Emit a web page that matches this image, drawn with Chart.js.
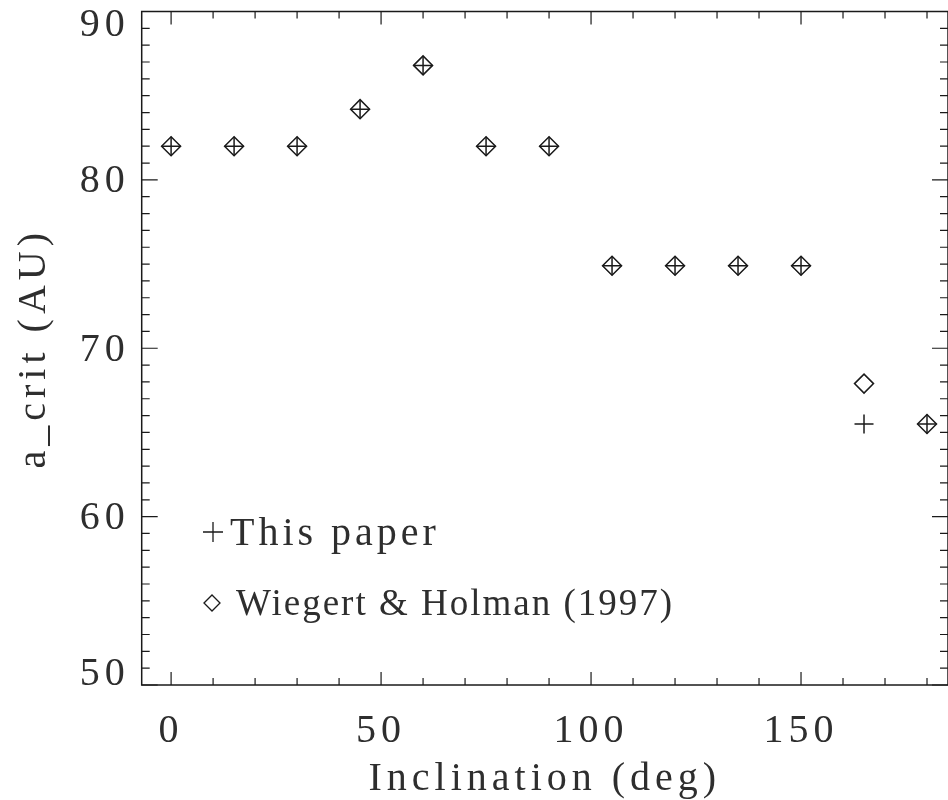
<!DOCTYPE html>
<html>
<head>
<meta charset="utf-8">
<script src="https://cdn.jsdelivr.net/npm/chart.js@4/dist/chart.umd.min.js"></script>
<style>
  html, body { margin: 0; padding: 0; background: #fff; }
  #wrap { width: 948px; height: 800px; }
</style>
</head>
<body>
<div id="wrap"><canvas id="acritChart"></canvas></div>
<script>
// inclinations (deg) sampled in the runs
const inclinations = [0, 15, 30, 45, 60, 75, 90, 105, 120, 135, 150, 165, 180];
// critical semi-major axis, this paper (plus symbols)
const acritThisPaper = [82, 82, 82, 84.2, 86.8, 82, 82, 74.9, 74.9, 74.9, 74.9, 65.5, 65.5];
// critical semi-major axis, Wiegert & Holman 1997 (diamonds)
const acritWH97 = [82, 82, 82, 84.2, 86.8, 82, 82, 74.9, 74.9, 74.9, 74.9, 67.9, 65.5];
// tick labels
const xTickValues = [0, 50, 100, 150];
const yTickValues = [50, 60, 70, 80, 90];

const FONT = '"Liberation Serif", "DejaVu Serif", serif';
const INK = '#1a1a1a';
const TEXT = '#2e2e2e';

function toPoints(xs, ys) {
    return xs.map((x, i) => ({ x: x, y: ys[i] }));
}

// frame with inward ticks on all four sides, like the IDL plot
const frameTicks = {
    id: 'frameTicks',
    beforeDatasetsDraw(chart) {
        const { ctx, chartArea: a, scales: { x, y } } = chart;
        ctx.save();
        ctx.strokeStyle = INK;
        ctx.lineWidth = 1.5;
        ctx.strokeRect(a.left, a.top, a.right - a.left, a.bottom - a.top);
        ctx.lineWidth = 1.2;
        ctx.beginPath();
        for (let v = 0; v <= 180; v += 10) {
            const px = x.getPixelForValue(v);
            const len = v % 50 === 0 ? 13 : 7;
            ctx.moveTo(px, a.bottom); ctx.lineTo(px, a.bottom - len);
            ctx.moveTo(px, a.top); ctx.lineTo(px, a.top + len);
        }
        for (let v = 50; v <= 90; v += 1) {
            const py = y.getPixelForValue(v);
            const len = v % 10 === 0 ? 16 : 8;
            ctx.moveTo(a.left, py); ctx.lineTo(a.left + len, py);
            ctx.moveTo(a.right, py); ctx.lineTo(a.right - len, py);
        }
        ctx.stroke();

        // y tick labels, end labels kept inside the frame as in the original
        ctx.fillStyle = TEXT;
        ctx.font = '40px ' + FONT;
        ctx.letterSpacing = '5px';
        ctx.textAlign = 'right';
        ctx.textBaseline = 'middle';
        yTickValues.forEach(v => {
            let py = y.getPixelForValue(v);
            py = Math.min(Math.max(py, a.top + 12), a.bottom - 13);
            ctx.fillText(String(v), a.left - 12, py + 2);
        });
        ctx.restore();
    }
};

// legend written inside the plot, lower left
const innerLegend = {
    id: 'innerLegend',
    afterDatasetsDraw(chart) {
        const ctx = chart.ctx;
        ctx.save();
        ctx.strokeStyle = INK;
        ctx.fillStyle = TEXT;
        ctx.lineWidth = 1.3;
        ctx.beginPath();
        // plus
        ctx.moveTo(203, 532); ctx.lineTo(223, 532);
        ctx.moveTo(213, 522); ctx.lineTo(213, 542);
        // diamond
        ctx.moveTo(204, 603); ctx.lineTo(212, 595); ctx.lineTo(220, 603);
        ctx.lineTo(212, 611); ctx.closePath();
        ctx.stroke();
        ctx.font = '40px ' + FONT;
        ctx.letterSpacing = '4px';
        ctx.textBaseline = 'alphabetic';
        ctx.textAlign = 'left';
        ctx.fillText('This paper', 230, 545);
        ctx.font = '37px ' + FONT;
        ctx.letterSpacing = '2px';
        ctx.fillText('Wiegert & Holman (1997)', 236, 615);
        ctx.restore();
    }
};

// wider letter spacing for the stroke-font look
const spacing = {
    id: 'spacing',
    beforeInit(chart) { chart.ctx.letterSpacing = '5px'; },
    beforeDraw(chart) { chart.ctx.letterSpacing = '5px'; }
};

const config = {
    type: 'scatter',
    data: {
        datasets: [
            {
                label: 'This paper',
                data: toPoints(inclinations, acritThisPaper),
                pointStyle: 'cross',
                pointRadius: 9.5,
                pointHoverRadius: 9.5,
                borderColor: INK,
                backgroundColor: 'rgba(0,0,0,0)',
                borderWidth: 1.5
            },
            {
                label: 'Wiegert & Holman (1997)',
                data: toPoints(inclinations, acritWH97),
                pointStyle: 'rectRot',
                pointRadius: 9.5,
                pointHoverRadius: 9.5,
                borderColor: INK,
                backgroundColor: 'rgba(0,0,0,0)',
                borderWidth: 1.5
            }
        ]
    },
    options: {
        responsive: true,
        maintainAspectRatio: false,
        animation: false,
        layout: { autoPadding: false, padding: { top: 11.5, right: 0, left: 0, bottom: 0 } },
        scales: {
            x: {
                type: 'linear',
                min: -7,
                max: 185,
                afterFit: (s) => { s.height = 115; s.paddingLeft = 0; s.paddingRight = 0; },
                afterBuildTicks: (s) => { s.ticks = xTickValues.map(v => ({ value: v })); },
                grid: { display: false },
                border: { display: false },
                ticks: {
                    color: TEXT,
                    padding: 14,
                    maxRotation: 0,
                    font: { family: FONT, size: 40 }
                },
                title: {
                    display: true,
                    text: 'Inclination (deg)',
                    color: TEXT,
                    padding: { top: 0, bottom: -3 },
                    font: { family: FONT, size: 40 }
                }
            },
            y: {
                type: 'linear',
                min: 50,
                max: 90,
                afterFit: (s) => { s.width = 141.7; s.paddingTop = 0; s.paddingBottom = 0; },
                afterBuildTicks: (s) => { s.ticks = yTickValues.map(v => ({ value: v })); },
                grid: { display: false },
                border: { display: false },
                ticks: { display: false },
                title: {
                    display: true,
                    text: 'a_crit (AU)',
                    color: TEXT,
                    padding: { top: 10, bottom: 0 },
                    font: { family: FONT, size: 40 }
                }
            }
        },
        plugins: {
            legend: { display: false },
            tooltip: { enabled: false }
        }
    },
    plugins: [spacing, frameTicks, innerLegend]
};

const acritChart = new Chart(document.getElementById('acritChart'), config);
</script>
</body>
</html>
